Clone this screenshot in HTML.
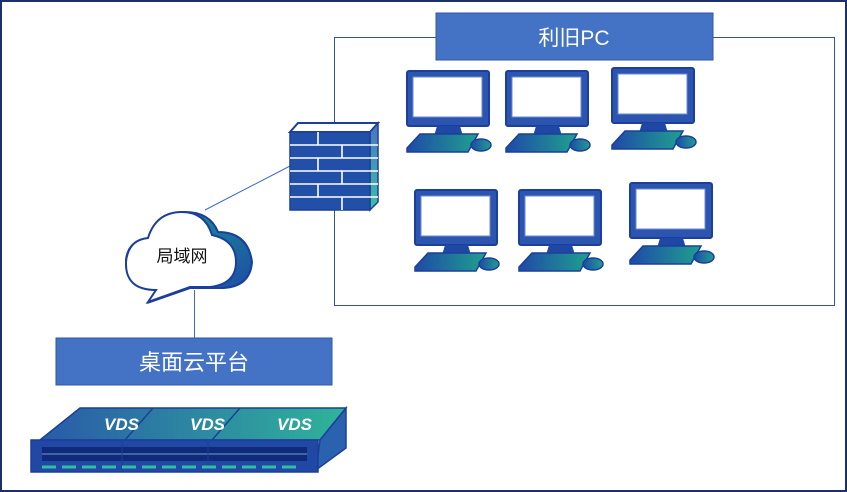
<!DOCTYPE html>
<html><head><meta charset="utf-8"><style>
html,body{margin:0;padding:0;background:#fff;}
svg{display:block;}
text{font-family:"Liberation Sans","Noto Sans CJK SC",sans-serif;}
</style></head><body>
<svg width="847" height="492" viewBox="0 0 847 492" xmlns="http://www.w3.org/2000/svg">
<defs>
<linearGradient id="kb" x1="0" y1="0" x2="1" y2="0"><stop offset="0" stop-color="#1f4aa8"/><stop offset="1" stop-color="#1fa08e"/></linearGradient>
<linearGradient id="cl" x1="0" y1="0" x2="1" y2="1"><stop offset="0" stop-color="#16a58e"/><stop offset="1" stop-color="#1f45a8"/></linearGradient>
<linearGradient id="fw" x1="0" y1="0" x2="0" y2="1"><stop offset="0" stop-color="#4a74c4"/><stop offset="1" stop-color="#3cc0a0"/></linearGradient>
<linearGradient id="vds" x1="0" y1="0" x2="1" y2="0"><stop offset="0" stop-color="#2a5aa8"/><stop offset="1" stop-color="#2fb49a"/></linearGradient>
<g id="pc">
<rect x="1" y="1" width="82" height="55" rx="2" fill="#2c55b0" stroke="#1b3f9a" stroke-width="2"/>
<rect x="7" y="7" width="69" height="40" fill="#fff" stroke="#6a8ad6" stroke-width="1"/>
<path d="M31 56 L54 56 L57 66 L28 66 Z" fill="#1f48a6"/>
<path d="M14 64 L72 64 L62 82 L1 82 L1 78 Z" fill="url(#kb)" stroke="#1b3f9a" stroke-width="1.5"/>
<ellipse cx="75" cy="75" rx="10" ry="6" fill="url(#kb)" stroke="#1b3f9a" stroke-width="1.5"/>
</g>
</defs>
<rect x="1" y="1" width="845" height="490" fill="#fff" stroke="#1d2f6b" stroke-width="2"/>
<rect x="334.5" y="37.5" width="500" height="268" fill="none" stroke="#2f55a8" stroke-width="1"/>
<rect x="436" y="13" width="277" height="47" fill="#4472c4" stroke="#2f55a8"/>
<text x="574" y="45" font-size="21" fill="#fff" text-anchor="middle">利旧PC</text>
<line x1="205" y1="210" x2="290" y2="166" stroke="#3a6ad0" stroke-width="1"/>
<line x1="194.5" y1="290" x2="194.5" y2="338" stroke="#3a6ad0" stroke-width="1"/>
<!-- firewall -->
<g>
<path d="M290 132 L298 123 L378 123 L370 132 Z" fill="#fff" stroke="#1b3f9a" stroke-width="2"/>
<path d="M370 132 L378 123 L378 202 L370 210 Z" fill="url(#fw)" stroke="#1b3f9a" stroke-width="1.5"/>
<rect x="290" y="132" width="80" height="78" fill="#2250a8" stroke="#1b3f9a" stroke-width="1.5"/>
<g stroke="#fff" stroke-width="1.6">
<line x1="290" y1="145" x2="378" y2="145"/><line x1="290" y1="158" x2="378" y2="158"/>
<line x1="290" y1="171" x2="378" y2="171"/><line x1="290" y1="184" x2="378" y2="184"/>
<line x1="290" y1="197" x2="378" y2="197"/>
<line x1="318" y1="132" x2="318" y2="145"/><line x1="342" y1="145" x2="342" y2="158"/>
<line x1="318" y1="158" x2="318" y2="171"/><line x1="342" y1="171" x2="342" y2="184"/>
<line x1="318" y1="184" x2="318" y2="197"/><line x1="342" y1="197" x2="342" y2="210"/>
</g>
</g>
<!-- cloud -->
<path d="M150 302 L160 290 Q125 290 126 260 Q128 240 150 238 Q158 212 185 212 Q210 212 218 232 Q248 232 252 262 Q250 288 220 288 L190 288 Z" fill="url(#cl)" stroke="#1b3f9a" stroke-width="2"/>
<path d="M148 302 L156 290 Q125 290 126 262 Q128 240 148 238 Q156 212 182 212 Q205 212 212 235 Q236 240 236 262 Q236 284 210 287 L190 287 Z" fill="#fff" stroke="#1b3f9a" stroke-width="2"/>
<text x="182" y="262" font-size="17" fill="#111" text-anchor="middle">局域网</text>
<rect x="56" y="338" width="276" height="47" fill="#4472c4" stroke="#2f55a8"/>
<text x="194" y="370" font-size="22" fill="#fff" text-anchor="middle">桌面云平台</text>
<!-- computers -->
<use href="#pc" x="406" y="70"/>
<use href="#pc" x="505" y="70"/>
<use href="#pc" x="611" y="67"/>
<use href="#pc" x="414" y="189"/>
<use href="#pc" x="518" y="189"/>
<use href="#pc" x="629" y="182"/>
<!-- VDS servers -->
<g>
<path d="M40 440 L80 408 L346 408 L320 440 Z" fill="url(#vds)" stroke="#1b3f9a" stroke-width="1.5"/>
<path d="M320 440 L346 408 L346 448 L316 470 Z" fill="#2a62b0" stroke="#1b3f9a" stroke-width="1.5"/>
<line x1="153" y1="408" x2="125" y2="440" stroke="#1b3f9a" stroke-width="1.5"/>
<line x1="240" y1="408" x2="212" y2="440" stroke="#1b3f9a" stroke-width="1.5"/>
<text x="104" y="430" font-size="17" font-weight="bold" font-style="italic" fill="#fff">VDS</text>
<text x="190" y="430" font-size="17" font-weight="bold" font-style="italic" fill="#fff">VDS</text>
<text x="277" y="430" font-size="17" font-weight="bold" font-style="italic" fill="#fff">VDS</text>
<rect x="31" y="440" width="287" height="32" fill="#2148a4" stroke="#1b3f9a" stroke-width="1.5"/>
<rect x="42" y="447" width="265" height="14" fill="#0f2a78"/>
<line x1="42" y1="454" x2="307" y2="454" stroke="#7a9ad8" stroke-width="1"/>
<line x1="122" y1="440" x2="122" y2="472" stroke="#1b3f9a"/>
<line x1="208" y1="440" x2="208" y2="472" stroke="#1b3f9a"/>
<path d="M42 467 L300 467" stroke="#2fc0a0" stroke-width="3" stroke-dasharray="14 6"/>
</g>
</svg>
</body></html>
